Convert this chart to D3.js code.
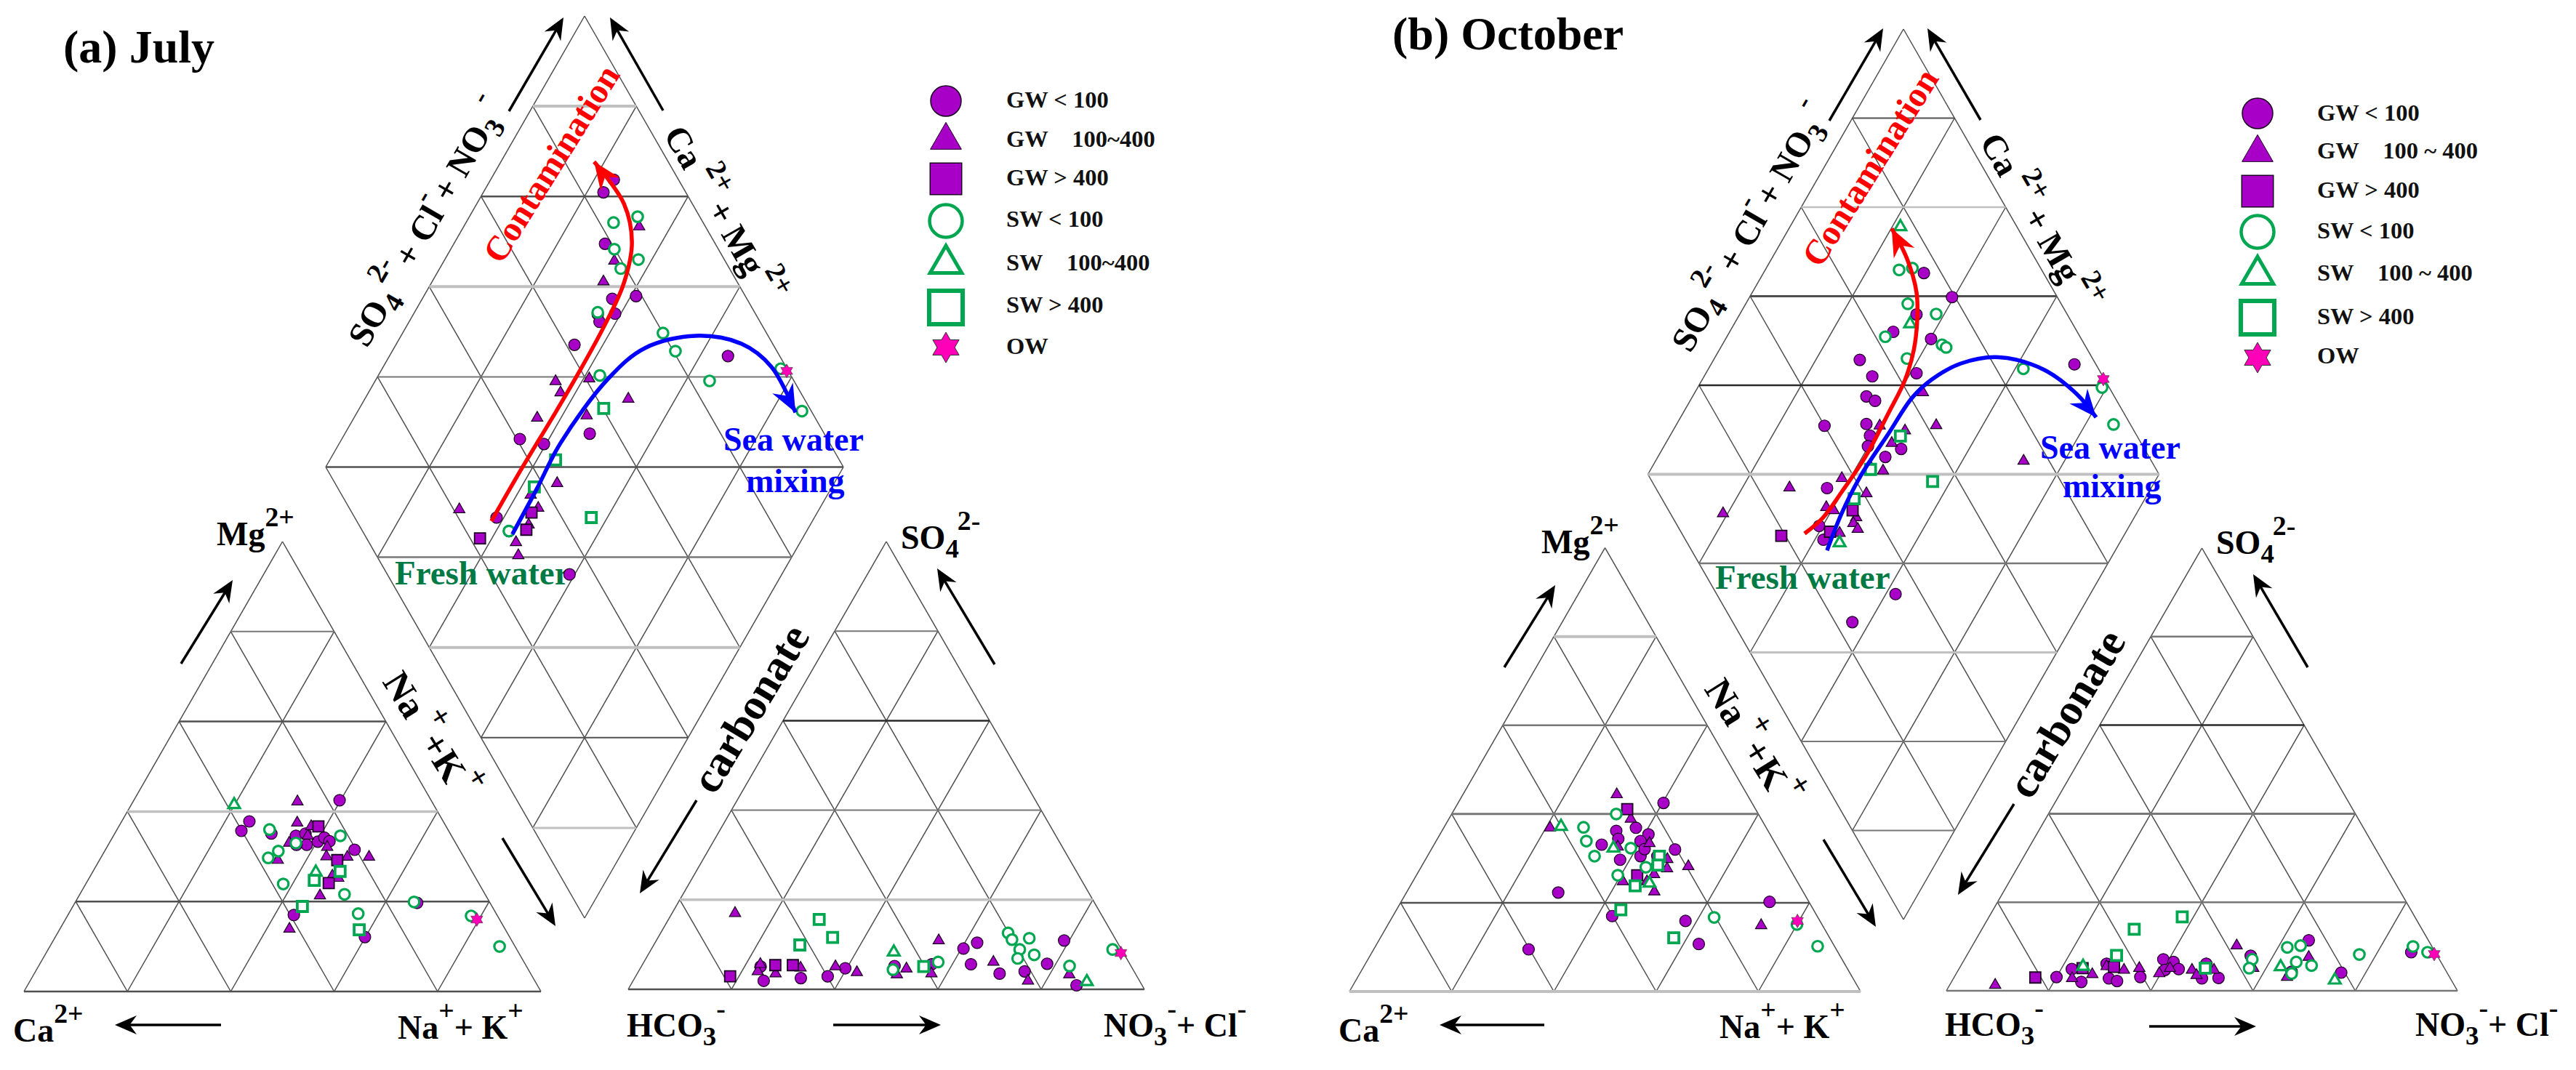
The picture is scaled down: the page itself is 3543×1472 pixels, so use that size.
<!DOCTYPE html>
<html><head><meta charset="utf-8">
<style>html,body{margin:0;padding:0;background:#fff}svg{display:block}</style>
<script src="https://cdn.jsdelivr.net/npm/d3@7"></script></head><body>
<svg id="c" width="3543" height="1472" xmlns="http://www.w3.org/2000/svg"></svg>
<script>
// ---------- values (percent) ----------
// diamond: [SO4+Cl+NO3 %, Ca+Mg %]; cation: [Na+K %, Mg %]; anion: [NO3+Cl %, SO4 %]
const julyDiamondGWlow=[[87.5,76.2],[84.1,76.8],[78.7,70.8],[78.9,59],[74,63.3],[69.5,64.4],[72.9,61.1],[69,63.2],[61.6,65.5],[90,34.6],[54.7,52.7],[40.6,65.6],[44.7,60.4],[27.4,61.4],[28.3,57.5],[35.2,41]];
const julyDiamondGWmid=[[87.2,66.1],[78.6,67.1],[74.2,66.9],[53.9,65.1],[53.6,62.9],[60.7,58.9],[66,49.1],[46.3,64.6],[56.1,55.3],[42.9,53.5],[36.5,57.3],[21.1,69.5],[36.5,54.4],[28.4,54.9],[27.4,53],[32.8,54.4]];
const julyDiamondGWhigh=[[34.7,55.2],[31.8,54.3],[21.9,62.3]];
const julyDiamondSWlow=[[88,67.5],[82.7,71.5],[79.9,68.4],[83.4,62.6],[79,65],[69.7,64.6],[80,49.7],[80.4,45.3],[63.1,57.2],[83.7,35.4],[98.8,23],[98.2,14.2],[28.3,57.5]];
const julyDiamondSWmid=[];
const julyDiamondSWhigh=[[60.2,52.8],[45.2,56.4],[38.1,57.5],[45.7,43.1]];
const julyDiamondOW=[[99.7,21.6]];

const julyCationGWlow=[[39.8,42.5],[24.7,37.8],[24.2,35.7],[30.3,35.1],[35.3,34.6],[36.9,35.1],[38.4,32.6],[36.4,32.6],[40.2,33.3],[41,34.2],[42.4,33.4],[48.2,31.5],[43.7,17],[59.9,12.1],[66.2,19.7]];
const julyCationGWmid=[[31.8,42.2],[34.1,37.5],[34.8,33],[34.5,29.2],[42.6,32.1],[43.5,30],[47.6,29.9],[51.8,29.9],[46.8,25.7],[48.2,25.2],[46.6,21.3],[44.4,13.9],[37.6,34.6],[37.2,36.7]];
const julyCationGWhigh=[[38.6,36.7],[46,29.2],[46.9,24.1]];
const julyCationSWlow=[[29.5,36],[36.1,33],[43.9,34.6],[33.6,31.2],[32.4,29.7],[38.2,23.9],[51.2,21.6],[56,17.3],[65.5,19.9],[78.1,16.8],[87,10]];
const julyCationSWmid=[[19.9,41.5],[43.2,26.5]];
const julyCationSWhigh=[[43.8,24.7],[47.8,26.7],[44.4,18.9],[58,13.7]];
const julyCationOW=[[79.6,16]];

const julyAnionGWlow=[[23.1,5.1],[25.3,1.9],[32.2,2.5],[37.2,2.9],[39.7,4.7],[49,5.2],[49.2,4.3],[56,5.6],[60.4,9.1],[62.4,10.4],[63.6,5.6],[70.2,3.5],[74.8,4],[78.3,5.7],[79,10.9],[86.4,0.9]];
const julyAnionGWmid=[[12.2,17],[23.1,4],[22.8,5.6],[26.8,3.5],[31,4.8],[37.6,5.1],[42.4,3.8],[50.4,3.3],[51.6,4.6],[57,3.5],[54.7,10.9],[67.7,6.1],[76.5,1.9],[83.8,3.3]];
const julyAnionGWhigh=[[18.3,2.9],[25.8,5.4],[29.2,5.4]];
const julyAnionSWlow=[[57,6.1],[67.3,12.6],[68.8,11.1],[72,11.4],[71.4,8.9],[72,6.9],[74.8,7.7],[82.9,5.2],[89.4,8.9],[49.1,4.4]];
const julyAnionSWmid=[[47.3,8.3],[88,1.7]];
const julyAnionSWhigh=[[29.2,15.6],[33.8,11.6],[28.3,9.9],[54.7,5.1]];
const julyAnionOW=[[91.4,8.1]];

const octDiamondGWlow=[[76.6,68.6],[79.4,60.4],[70.5,65.4],[64,68],[70.6,59.8],[54.3,71.4],[54.9,67.1],[63.9,58.8],[95.8,28.9],[35,38.1],[23.4,43.4],[51.5,66],[52.7,63.8],[48.4,62.9],[40,70.9],[47.8,60.9],[46.2,60.1],[48.4,55.5],[52.4,53.3],[33.5,63.4],[27.7,60.7],[27,58.3]];
const octDiamondGWmid=[[63,55.4],[61.9,49.1],[55.2,54.6],[50.8,60.1],[51.2,55.8],[46.4,54.4],[44.4,57.2],[37.5,61.6],[26.2,70.8],[40.6,55.1],[31.2,61.4],[32.3,59.6],[35.9,54.4],[34.7,54.3],[34.9,52.8],[30.9,55.9],[75,28],[10.3,80.9]];
const octDiamondGWhigh=[[36,55.9],[29.2,57.9],[19.2,67]];
const octDiamondSWlow=[[72.1,73.8],[74.9,71.4],[70,68.3],[74.4,61.6],[61.9,69],[63.7,62.3],[72.1,57],[72.6,55.9],[85.3,38.4],[98.6,20.9],[96.7,14.5]];
const octDiamondSWmid=[[77.2,78.4],[68.2,65.6],[29.8,54.8]];
const octDiamondSWhigh=[[53.7,54.9],[44.1,57],[54.9,43.5],[37.6,56.9]];
const octDiamondOW=[[99.8,21.6]];

const octCationGWlow=[[40.2,42.5],[37.6,36.9],[40.8,35.4],[34.1,36.2],[35.4,34.4],[32.8,33.1],[40,33.9],[47.7,32],[38.1,29.7],[41.7,30.5],[41.7,32.1],[29.7,22.3],[42.9,17],[57.8,15.9],[63,10.7],[72.1,20.2],[30.3,9.5],[45,30.5],[46,28.5]];
const octCationGWmid=[[30.1,44.4],[20.8,36.9],[35.6,38.9],[42,33.4],[47.3,29.8],[48.3,27.7],[52.2,28.2],[41.1,24.8],[46.4,26.4],[45.8,24.8],[48.4,22.5],[73.1,14.9],[36.2,32.6]];
const octCationGWhigh=[[33.8,41.1],[43.2,26.2]];
const octCationSWlow=[[32.2,40],[27.3,37],[29.4,33.9],[32.7,30.5],[38.9,32.3],[39.4,26.2],[44,28],[63,16.7],[80,15.1],[86.5,10.2]];
const octCationSWmid=[[22.8,37.2],[35.5,32.3],[46.5,24.4]];
const octCationSWhigh=[[44,23.8],[43.9,18.4],[45.4,30.5],[46.1,28.5],[57.4,12.1]];
const octCationOW=[[79.7,15.9]];

const octAnionGWlow=[[20,3.1],[22.1,4.9],[25.4,2],[28.3,6.1],[30.4,2.8],[32.3,2.2],[36.4,3.1],[38.9,7.1],[41.2,6.5],[40.4,4.7],[43,4.9],[48.6,2.8],[47.8,6.1],[51.8,2.9],[55.6,7.9],[65.4,4.3],[65.2,11.4],[75.2,4.1],[86.6,8.7]];
const octAnionGWmid=[[8.9,1.3],[23.2,2.8],[26.7,3.7],[28.6,5.5],[32.4,4.7],[35.2,5.1],[39.7,3.9],[41.2,5.1],[45.7,4.7],[47.2,3.5],[50,4.7],[51.7,10.2],[57.5,5.1],[65.1,3.1],[67.1,7.6]];
const octAnionGWhigh=[[15.9,3],[24.1,5.1],[30.1,5.4]];
const octAnionSWlow=[[56.3,7.1],[56.7,5.1],[61.8,9.8],[64.2,10.2],[65.2,6.5],[68.6,5.7],[65.6,3.9],[76.7,8.2],[86.3,10],[89.8,8.7]];
const octAnionSWmid=[[24,5.5],[62.7,5.4],[74.8,2.4]];
const octAnionSWhigh=[[29.8,13.9],[37.8,16.7],[29.3,8],[48.1,5.1]];
const octAnionOW=[[91.3,8.3]];

// trend curves in diamond coordinates
const julyContamination=[[26,62],[36.5,62],[54.6,61.6],[68.8,61.8],[78,62.8],[84.1,65.8],[86.8,71.6],[85.7,82]];
const julySeaMixing=[[28.6,56.5],[38.3,56.8],[48,57.3],[64.5,55.2],[74.9,51.5],[86,43.1],[94,33.3],[97.2,25],[96.8,15.3]];
const octContamination=[[24,62.7],[29.3,60.9],[35.9,60.1],[44.9,59.4],[53.8,59.8],[60.9,60.3],[65.9,61.9],[70.1,64.7],[73,67.9],[74.9,73.5],[75.3,79.9]];
const octSeaMixing=[[26.5,56.4],[33.5,57.7],[41.7,58.2],[51.6,57.5],[60.3,56.9],[66.2,55.1],[73.7,51.2],[81.8,44.5],[89.1,34.5],[92.9,25.2],[94.1,18.7]];

const gridLevels=[20,40,60,80];
const seriesKeys=['GWlow','GWmid','GWhigh','SWlow','SWmid','SWhigh','OW'];
const julyLegendLabels=['GW < 100','GW\u00a0\u00a0\u00a0\u00a0100~400','GW > 400','SW < 100','SW\u00a0\u00a0\u00a0\u00a0100~400','SW > 400','OW'];
const octLegendLabels=['GW < 100','GW\u00a0\u00a0\u00a0\u00a0100 ~ 400','GW > 400','SW < 100','SW\u00a0\u00a0\u00a0\u00a0100 ~ 400','SW > 400','OW'];

// ---------- series tables ----------
const tables={
 july:{
  diamond:{GWlow:julyDiamondGWlow,GWmid:julyDiamondGWmid,GWhigh:julyDiamondGWhigh,SWlow:julyDiamondSWlow,SWmid:julyDiamondSWmid,SWhigh:julyDiamondSWhigh,OW:julyDiamondOW},
  cation:{GWlow:julyCationGWlow,GWmid:julyCationGWmid,GWhigh:julyCationGWhigh,SWlow:julyCationSWlow,SWmid:julyCationSWmid,SWhigh:julyCationSWhigh,OW:julyCationOW},
  anion:{GWlow:julyAnionGWlow,GWmid:julyAnionGWmid,GWhigh:julyAnionGWhigh,SWlow:julyAnionSWlow,SWmid:julyAnionSWmid,SWhigh:julyAnionSWhigh,OW:julyAnionOW}},
 oct:{
  diamond:{GWlow:octDiamondGWlow,GWmid:octDiamondGWmid,GWhigh:octDiamondGWhigh,SWlow:octDiamondSWlow,SWmid:octDiamondSWmid,SWhigh:octDiamondSWhigh,OW:octDiamondOW},
  cation:{GWlow:octCationGWlow,GWmid:octCationGWmid,GWhigh:octCationGWhigh,SWlow:octCationSWlow,SWmid:octCationSWmid,SWhigh:octCationSWhigh,OW:octCationOW},
  anion:{GWlow:octAnionGWlow,GWmid:octAnionGWmid,GWhigh:octAnionGWhigh,SWlow:octAnionSWlow,SWmid:octAnionSWmid,SWhigh:octAnionSWhigh,OW:octAnionOW}}
};

// ---------- layout & style ----------
const PURPLE='#a900c8',GREEN='#00a650',PINK='#ff00b8',FRESH='#007a45';
const L1='#505050',L2='#c0c0c0',L3='#777777',L4='#2a2a2a';
const layout={
 july:{diamond:{cx:804,bottom:1263,hw:356,hh:620.5},cation:{l:33,r:744,base:1364,apex:745},anion:{l:864,r:1574,base:1361,apex:745},
  hDiamond:[[L2,4],[L1,2.5],[L2,4],[L3,2],[L1,2.5],[L3,2.5],[L2,4],[L1,2],[L2,3]],
  hCation:[[L3,2],[L1,2.5],[L2,3.5],[L1,2.5],[L1,2.5]],
  hAnion:[[L3,2],[L4,2.5],[L3,2],[L2,3.5],[L1,2.5]]},
 oct:{diamond:{cx:2618,bottom:1265,hw:351.5,hh:612.5},cation:{l:1856,r:2559,base:1364,apex:753.6},anion:{l:2677,r:3380,base:1363,apex:754},
  hDiamond:[[L1,2],[L2,2.5],[L1,3],[L4,2.5],[L2,4],[L3,2.5],[L2,3],[L3,2],[L3,2]],
  hCation:[[L2,4],[L3,2.5],[L3,3],[L1,2.5],[L2,4]],
  hAnion:[[L3,2.5],[L4,2.5],[L3,3],[L3,2.5],[L3,2.5]]}
};
const hexagram={draw(ctx,size){const R=Math.sqrt(size),r=R/Math.sqrt(3);for(let i=0;i<12;i++){const a=-Math.PI/2+i*Math.PI/6,d=i%2?r:R;const x=d*Math.cos(a),y=d*Math.sin(a);i?ctx.lineTo(x,y):ctx.moveTo(x,y);}ctx.closePath();}};
const style={
 GWlow:{type:d3.symbolCircle,size:200,lsize:1385,fill:PURPLE,stroke:'#1a0020',sw:1.2,lsw:1.5},
 GWmid:{type:d3.symbolTriangle,size:105,lsize:790,fill:PURPLE,stroke:'#1a0020',sw:1.2,lsw:1},
 GWhigh:{type:d3.symbolSquare,size:225,lsize:1890,fill:PURPLE,stroke:'#1a0020',sw:1.8,lsw:1.5},
 SWlow:{type:d3.symbolCircle,size:165,lsize:1590,fill:'#fff',stroke:GREEN,sw:3.2,lsw:4.5},
 SWmid:{type:d3.symbolTriangle,size:110,lsize:820,fill:'#fff',stroke:GREEN,sw:3.2,lsw:5},
 SWhigh:{type:d3.symbolSquare,size:196,lsize:2120,fill:'#fff',stroke:GREEN,sw:3.8,lsw:6},
 OW:{type:hexagram,size:90,lsize:440,fill:PINK,stroke:'#333',sw:0.6,lsw:1}
};

const svg=d3.select('#c');
svg.append('rect').attr('width',3543).attr('height',1472).attr('fill','#fff');
const SERIF='"Liberation Serif","Times New Roman",serif';

function triScales(g){const x=d3.scaleLinear().domain([0,100]).range([g.l,g.r]),y=d3.scaleLinear().domain([0,100]).range([g.base,g.apex]);return ([a,b])=>[x(a+b/2),y(b)];}
function diaScales(g){const x=d3.scaleLinear().domain([-100,100]).range([g.cx-g.hw,g.cx+g.hw]),y=d3.scaleLinear().domain([0,200]).range([g.bottom,g.bottom-2*g.hh]);return ([q,p])=>[x(q-p),y(q+p)];}
const seg=(root,a,b,c,w)=>root.append('line').attr('x1',a[0]).attr('y1',a[1]).attr('x2',b[0]).attr('y2',b[1]).attr('stroke',c).attr('stroke-width',w);
const THIN='#4e4e4e',TW=1.5;

function drawTriGrid(root,pos,hs){
 gridLevels.forEach(k=>{
  seg(root,pos([k,0]),pos([k,100-k]),THIN,TW);
  seg(root,pos([100-k,0]),pos([0,100-k]),THIN,TW);
 });
 seg(root,pos([0,0]),pos([0,100]),THIN,TW);seg(root,pos([100,0]),pos([0,100]),THIN,TW);
 [80,60,40,20,0].forEach((k,i)=>{seg(root,pos([0,k]),pos([100-k,k]),hs[i][0],hs[i][1]);});
}
function drawDiaGrid(root,pos,hs){
 [0,...gridLevels,100].forEach(k=>{
  seg(root,pos([k,0]),pos([k,100]),THIN,TW);
  seg(root,pos([0,k]),pos([100,k]),THIN,TW);
 });
 d3.range(1,10).forEach(i=>{
  const s=200-20*i;
  const a=s>=100?[s-100,100]:[0,s],b=s>=100?[100,s-100]:[s,0];
  seg(root,pos(a),pos(b),hs[i-1][0],hs[i-1][1]);
 });
}
function drawMarks(root,pos,table){
 seriesKeys.forEach(k=>{
  const st=style[k];
  root.append('g').selectAll('path').data(table[k]).join('path')
   .attr('d',d3.symbol().type(st.type).size(st.size)())
   .attr('transform',d=>{const p=pos(d);return `translate(${p[0]},${p[1]})`;})
   .attr('fill',st.fill).attr('stroke',st.stroke).attr('stroke-width',st.sw);
 });
}
function head(root,tip,from,len,wid,color){
 const dx=tip[0]-from[0],dy=tip[1]-from[1],n=Math.hypot(dx,dy),ux=dx/n,uy=dy/n,px=-uy,py=ux;
 const b=[tip[0]-ux*len,tip[1]-uy*len],nt=[tip[0]-ux*len*.68,tip[1]-uy*len*.68];
 root.append('path').attr('d',`M${tip}L${b[0]+px*wid/2},${b[1]+py*wid/2}L${nt}L${b[0]-px*wid/2},${b[1]-py*wid/2}Z`).attr('fill',color);
}
function arrow(root,x1,y1,x2,y2){
 seg(root,[x1,y1],[x2-(x2-x1)*.05,y2-(y2-y1)*.05],'#000',3.5);
 head(root,[x2,y2],[x1,y1],30,26,'#000');
}
function rich(root,x,y,rot,size,parts,fill='#000'){
 const t=root.append('text').attr('transform',`translate(${x},${y}) rotate(${rot})`)
  .attr('font-family',SERIF).attr('font-weight','bold').attr('font-size',size).attr('fill',fill);
 let prev=0;
 parts.forEach(([s,lv=0,dx=0])=>{
  const shift=lv===1?-0.56*size:lv===-1?0.26*size:0;
  t.append('tspan').attr('dy',shift-prev).attr('dx',dx).attr('font-size',lv?size*(lv===1?.82:.8):size).style('white-space','pre').text(s);
  prev=shift;
 });
}
function curve(root,pos,pts,color){
 const px=pts.map(pos);
 root.append('path').attr('d',d3.line().curve(d3.curveCatmullRom)(px)).attr('fill','none').attr('stroke',color).attr('stroke-width',5.5);
 const n=px.length;
 head(root,px[n-1],px[n-2],38,32,color);
}
function legend(root,x0,tx,ys,tys,labels){
 seriesKeys.forEach((k,i)=>{
  const st=style[k];
  root.append('path').attr('d',d3.symbol().type(st.type).size(st.lsize)()).attr('transform',`translate(${x0},${ys[i]})`)
   .attr('fill',st.fill).attr('stroke',st.stroke).attr('stroke-width',st.lsw);
  root.append('text').attr('x',tx).attr('y',tys[i]).attr('font-family',SERIF).attr('font-weight','bold').attr('font-size',32.5).attr('fill','#111').style('white-space','pre').text(labels[i]);
 });
}

function panel(name,o){
 const lay=layout[name],tb=tables[name],root=svg.append('g');
 const pd=diaScales(lay.diamond),pc=triScales(lay.cation),pa=triScales(lay.anion);
 drawDiaGrid(root,pd,lay.hDiamond);drawTriGrid(root,pc,lay.hCation);drawTriGrid(root,pa,lay.hAnion);
 root.append('text').attr('x',o.fresh[0]).attr('y',o.fresh[1]).attr('font-family',SERIF).attr('font-weight','bold').attr('font-size',47).attr('fill',FRESH).text('Fresh water');
 drawMarks(root,pd,tb.diamond);drawMarks(root,pc,tb.cation);drawMarks(root,pa,tb.anion);
 curve(root,pd,o.red,'#ff0000');curve(root,pd,o.blue,'#0000ff');
 o.arrows.forEach(a=>arrow(root,...a));
 root.append('text').attr('x',o.title[0]).attr('y',o.title[1]).attr('font-family',SERIF).attr('font-weight','bold').attr('font-size',64).text(o.titleText);
 root.append('text').attr('transform',`translate(${o.cont[0]},${o.cont[1]}) rotate(-58)`).attr('font-family',SERIF).attr('font-weight','bold').attr('font-size',48).attr('fill','#ff0000').text('Contamination');
 root.append('text').attr('x',o.sea[0]).attr('y',o.sea[1]).attr('font-family',SERIF).attr('font-weight','bold').attr('font-size',46).attr('fill','#0000ff').text('Sea water');
 root.append('text').attr('x',o.mix[0]).attr('y',o.mix[1]).attr('font-family',SERIF).attr('font-weight','bold').attr('font-size',46).attr('fill','#0000ff').text('mixing');
 root.append('text').attr('transform',`translate(${o.carb[0]},${o.carb[1]}) rotate(-59)`).attr('font-family',SERIF).attr('font-weight','bold').attr('font-size',60).text('carbonate');
 rich(root,o.so[0],o.so[1],-60,48,[['SO'],['4',-1],['2-',1,4],[' + Cl',0,-6],['-',1],['+ NO',0,4],['3',-1],['-',1,10]]);
 rich(root,o.ca[0],o.ca[1],60,48,[['Ca'],['2+',1,10],[' + Mg',0,-4],['2+',1,4]]);
 rich(root,o.nk[0],o.nk[1],58,52,[['Na'],['+',1,8],['+',0,2],['K',0,0],['+',1,2]]);
 rich(root,o.mg[0],o.mg[1],0,46,[['Mg'],['2+',1]]);
 rich(root,o.cal[0],o.cal[1],0,46,[['Ca'],['2+',1]]);
 rich(root,o.nal[0],o.nal[1],0,46,[['Na'],['+',1],['+ K',0],['+',1]]);
 rich(root,o.hco[0],o.hco[1],0,46,[['HCO'],['3',-1],['-',1]]);
 rich(root,o.no[0],o.no[1],0,46,[['NO'],['3',-1],['-',1],['+ Cl',0],['-',1]]);
 rich(root,o.so4[0],o.so4[1],0,46,[['SO'],['4',-1],['2-',1,-2]]);
 legend(root,o.lx,o.ltx,o.lys,o.ltys,o.labels);
}

panel('july',{title:[87,86],titleText:'(a) July',fresh:[543,804],red:julyContamination,blue:julySeaMixing,
 cont:[690,365],sea:[995,620],mix:[1026,677],carb:[983,1095],so:[505,480],ca:[912,185],nk:[525,938],
 mg:[298,750],cal:[18,1433],nal:[547,1429],hco:[862,1426],no:[1518,1426],so4:[1239,755],
 arrows:[[700,153,775,24],[912,152,839,24],[249,913,320,798],[691,1153,764,1274],[304,1410,158,1410],[1146,1410,1294,1410],[1368,914,1289,782],[958,1101,880,1229]],
 lx:1301,ltx:1384,lys:[139,193,246,304,363,423,478],ltys:[148,202,255,312,372,430,487],labels:julyLegendLabels});
panel('oct',{title:[1915,68],titleText:'(b) October',fresh:[2359,810],red:octContamination,blue:octSeaMixing,
 cont:[2504,370],sea:[2806,631],mix:[2837,684],carb:[2793,1102],so:[2325,487],ca:[2722,195],nk:[2343,948],
 mg:[2120,761],cal:[1841,1433],nal:[2365,1428],hco:[2675,1425],no:[3322,1425],so4:[3048,762],
 arrows:[[2516,166,2590,39],[2724,165,2651,39],[2069,918,2139,805],[2508,1155,2580,1275],[2124,1410,1980,1410],[2956,1412,3103,1412],[3174,918,3099,790],[2770,1106,2693,1231]],
 lx:3105,ltx:3187,lys:[156,210,263,319,378,437,492],ltys:[166,218,272,328,386,446,500],labels:octLegendLabels});
</script></body></html>
